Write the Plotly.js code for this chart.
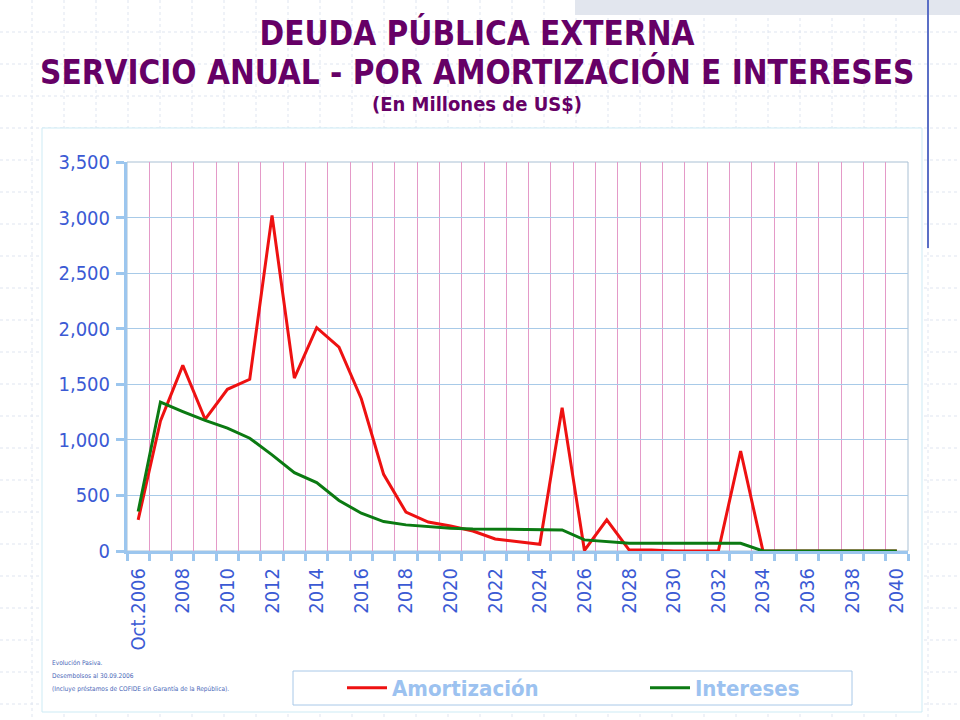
<!DOCTYPE html>
<html>
<head>
<meta charset="utf-8">
<script src="https://cdn.plot.ly/plotly-3.0.1.min.js"></script>
<style>html,body{margin:0;padding:0;background:#fff;}#chart{width:960px;height:720px;}</style>
</head>
<body>
<div id="chart"></div>
<script>
const categories = ['Oct.2006','2007','2008','2009','2010','2011','2012','2013','2014','2015','2016','2017','2018','2019','2020','2021','2022','2023','2024','2025','2026','2027','2028','2029','2030','2031','2032','2033','2034','2035','2036','2037','2038','2039','2040'];
const tickLabels = ['Oct.2006','','2008','','2010','','2012','','2014','','2016','','2018','','2020','','2022','','2024','','2026','','2028','','2030','','2032','','2034','','2036','','2038','','2040'];
const amortizacion = [280,1170,1670,1185,1455,1545,3020,1555,2010,1835,1370,690,350,260,225,180,108,84,60,1290,5,280,10,10,0,0,0,900,0,0,0,0,0,0,0];
const intereses = [355,1340,1255,1175,1105,1015,865,705,615,455,340,265,235,220,205,198,195,190,190,190,100,85,70,70,70,70,70,70,0,0,0,0,0,0,0];
const yTicks = [0,500,1000,1500,2000,2500,3000,3500];

const W = 960, H = 720, L = 127, R = 908, T = 162, B = 551;
const px = x => (x - L) / (R - L);
const py = y => (B - y) / (B - T);
const FONT = 'DejaVu Sans Condensed, DejaVu Sans, sans-serif';

const shapes = [];
// slide background dotted grid
for (let gx = 32; gx < W; gx += 32) {
  shapes.push({type:'line', xref:'paper', yref:'paper', x0:px(gx), x1:px(gx), y0:py(0), y1:py(H), line:{color:'#dfe5f0', width:1, dash:'dot'}, layer:'below'});
}
for (let gy = 32; gy < H; gy += 32) {
  shapes.push({type:'line', xref:'paper', yref:'paper', x0:px(0), x1:px(W), y0:py(gy), y1:py(gy), line:{color:'#dfe5f0', width:1, dash:'dot'}, layer:'below'});
}
// top-right hatched band
shapes.push({type:'rect', xref:'paper', yref:'paper', x0:px(575), x1:px(960), y0:py(0), y1:py(15), fillcolor:'#e2e6ee', line:{width:0}, layer:'below'});
// vertical blue decoration line
shapes.push({type:'line', xref:'paper', yref:'paper', x0:px(928), x1:px(928), y0:py(0), y1:py(248), line:{color:'#5b6fc6', width:2}, layer:'below'});
// chart box
shapes.push({type:'rect', xref:'paper', yref:'paper', x0:px(42), x1:px(922), y0:py(128), y1:py(712), fillcolor:'#ffffff', line:{color:'#cdebf5', width:1}, layer:'below'});
// plot frame (thin top/right)
shapes.push({type:'rect', xref:'paper', yref:'paper', x0:0, x1:1, y0:0, y1:1, line:{color:'#a9c0d4', width:1}, layer:'below'});
// legend box
shapes.push({type:'rect', xref:'paper', yref:'paper', x0:px(293), x1:px(852), y0:py(671), y1:py(705), line:{color:'#a8c8e8', width:1}, fillcolor:'rgba(0,0,0,0)', layer:'above'});

const footColor = '#4a68b8';
const annotations = [
  {text:'<b>SERVICIO ANUAL - POR AMORTIZACIÓN E INTERESES</b>', xref:'paper', yref:'paper', x:px(477), y:py(72), xanchor:'center', yanchor:'middle', showarrow:false, font:{family:FONT, size:33, color:'#660066'}},
  {text:'<b>(En Millones de US$)</b>', xref:'paper', yref:'paper', x:px(477), y:py(104), xanchor:'center', yanchor:'middle', showarrow:false, font:{family:FONT, size:20, color:'#660066'}},
  {text:'Evolución Pasiva.', xref:'paper', yref:'paper', x:px(50), y:py(663), xanchor:'left', yanchor:'middle', showarrow:false, font:{family:FONT, size:6.5, color:footColor}},
  {text:'Desembolsos al 30.09.2006', xref:'paper', yref:'paper', x:px(50), y:py(676), xanchor:'left', yanchor:'middle', showarrow:false, font:{family:FONT, size:6.5, color:footColor}},
  {text:'(Incluye préstamos de COFIDE sin Garantía de la República).', xref:'paper', yref:'paper', x:px(50), y:py(689), xanchor:'left', yanchor:'middle', showarrow:false, font:{family:FONT, size:6.5, color:footColor}}
];

const traces = [
  {type:'scatter', mode:'lines', name:'Amortización', x:categories, y:amortizacion, line:{color:'#ee1111', width:3}, hoverinfo:'x+y'},
  {type:'scatter', mode:'lines', name:'Intereses', x:categories, y:intereses, line:{color:'#0b7a12', width:3}, hoverinfo:'x+y'}
];

const layout = {
  width: W, height: H,
  margin: {l:L, r:W-R, t:T, b:H-B, pad:0, autoexpand:false},
  paper_bgcolor:'#ffffff',
  plot_bgcolor:'rgba(0,0,0,0)',
  title: {
    text:'<b>DEUDA PÚBLICA EXTERNA</b>',
    x:477/W, xref:'container', xanchor:'center',
    y:1 - 33/H, yref:'container', yanchor:'middle',
    font:{family:FONT, size:33, color:'#660066'}
  },
  xaxis: {
    type:'category', categoryorder:'array', categoryarray:categories,
    range:[-0.5, categories.length - 0.5],
    tickmode:'array', tickvals:categories, ticktext:tickLabels,
    tickson:'boundaries', ticks:'outside', ticklen:7, tickwidth:3, tickcolor:'#9cc6ee',
    tickangle:-90, tickfont:{family:FONT, size:20, color:'#3b5ad4'}, ticklabelstandoff:6,
    showgrid:true, gridcolor:'#e49ac8', gridwidth:1,
    showline:true, linecolor:'#9cc6ee', linewidth:3,
    zeroline:false, automargin:false, fixedrange:true
  },
  yaxis: {
    range:[0,3500], tickmode:'array', tickvals:yTicks, tickformat:',d',
    ticks:'outside', ticklen:8, tickwidth:3, tickcolor:'#9cc6ee',
    tickfont:{family:FONT, size:20, color:'#3b5ad4'}, ticklabelstandoff:2,
    showgrid:true, gridcolor:'#a8cae8', gridwidth:1,
    showline:true, linecolor:'#9cc6ee', linewidth:3,
    zeroline:false, automargin:false, fixedrange:true
  },
  showlegend:true,
  legend: {
    orientation:'h', x:px(342), xanchor:'left', y:py(688), yanchor:'middle',
    bgcolor:'rgba(0,0,0,0)', borderwidth:0,
    font:{family:FONT, size:22, color:'#9cc2f0', weight:'bold'},
    entrywidth:248, entrywidthmode:'pixels', itemwidth:40
  },
  shapes: shapes,
  annotations: annotations
};

Plotly.newPlot('chart', traces, layout, {displayModeBar:false, staticPlot:true});
</script>
</body>
</html>
